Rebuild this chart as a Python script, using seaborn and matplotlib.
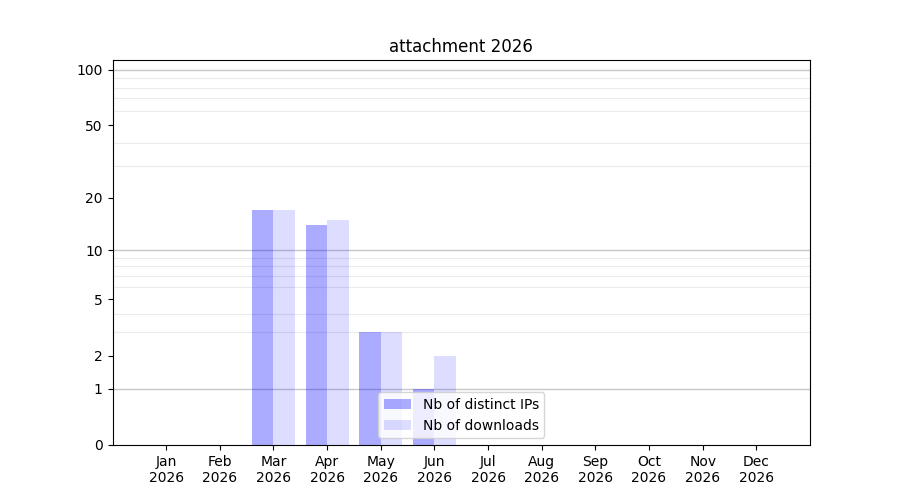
import matplotlib
matplotlib.use("Agg")
import matplotlib.pyplot as plt
import numpy as np
import pandas as pd
import seaborn as sns

# Data
months = ["Jan", "Feb", "Mar", "Apr", "May", "Jun",
          "Jul", "Aug", "Sep", "Oct", "Nov", "Dec"]
year = 2026
series_names = ["Nb of distinct IPs", "Nb of downloads"]
distinct_ips = [0, 0, 17, 14, 3, 1, 0, 0, 0, 0, 0, 0]
downloads = [0, 0, 17, 15, 3, 2, 0, 0, 0, 0, 0, 0]
alphas = [0.33, 0.135]

labels = [f"{m}\n{year}" for m in months]
df = pd.DataFrame({
    "month": labels * 2,
    "value": distinct_ips + downloads,
    "series": [series_names[0]] * 12 + [series_names[1]] * 12,
})

fig, ax = plt.subplots(figsize=(9, 5), dpi=100)

sns.barplot(data=df, x="month", y="value", hue="series",
            palette=["#0000ff", "#0000ff"], width=0.8,
            linewidth=0, saturation=1, ax=ax, zorder=2)

# translucent blue bars, grid shows through
for cont, a in zip(ax.containers, alphas):
    for p in cont:
        p.set_facecolor((0, 0, 1, a))

# y axis: log(1 + x) scale
ax.set_yscale("function", functions=(lambda v: np.log10(1 + np.maximum(v, 0)),
                                     lambda v: 10 ** v - 1))
ax.set_ylim(0, 113)
ax.set_xlim(-1, 12)

ax.set_yticks([0, 1, 2, 5, 10, 20, 50, 100])
ax.set_yticklabels(["0", "1", "2", "5", "10", "20", "50", "100"])
minor = [2, 3, 4, 5, 6, 7, 8, 9, 20, 30, 40, 50, 60, 70, 80, 90]
ax.set_yticks(minor, minor=True)
ax.tick_params(axis="y", which="minor", length=0)
ax.set_axisbelow(True)
ax.grid(False)
ax.grid(axis="y", which="minor", color="#ebebeb", linewidth=0.8)
for v in [1, 10, 100]:
    ax.axhline(v, color="#c8c8c8", linewidth=1, zorder=0.6)

ax.set_xlabel("")
ax.set_ylabel("")
ax.set_title(f"attachment {year}")
if ax.get_legend() is not None:
    ax.get_legend().remove()
ax.legend(ax.containers, series_names, loc="lower center")

fig.savefig("out.png", dpi=100)
